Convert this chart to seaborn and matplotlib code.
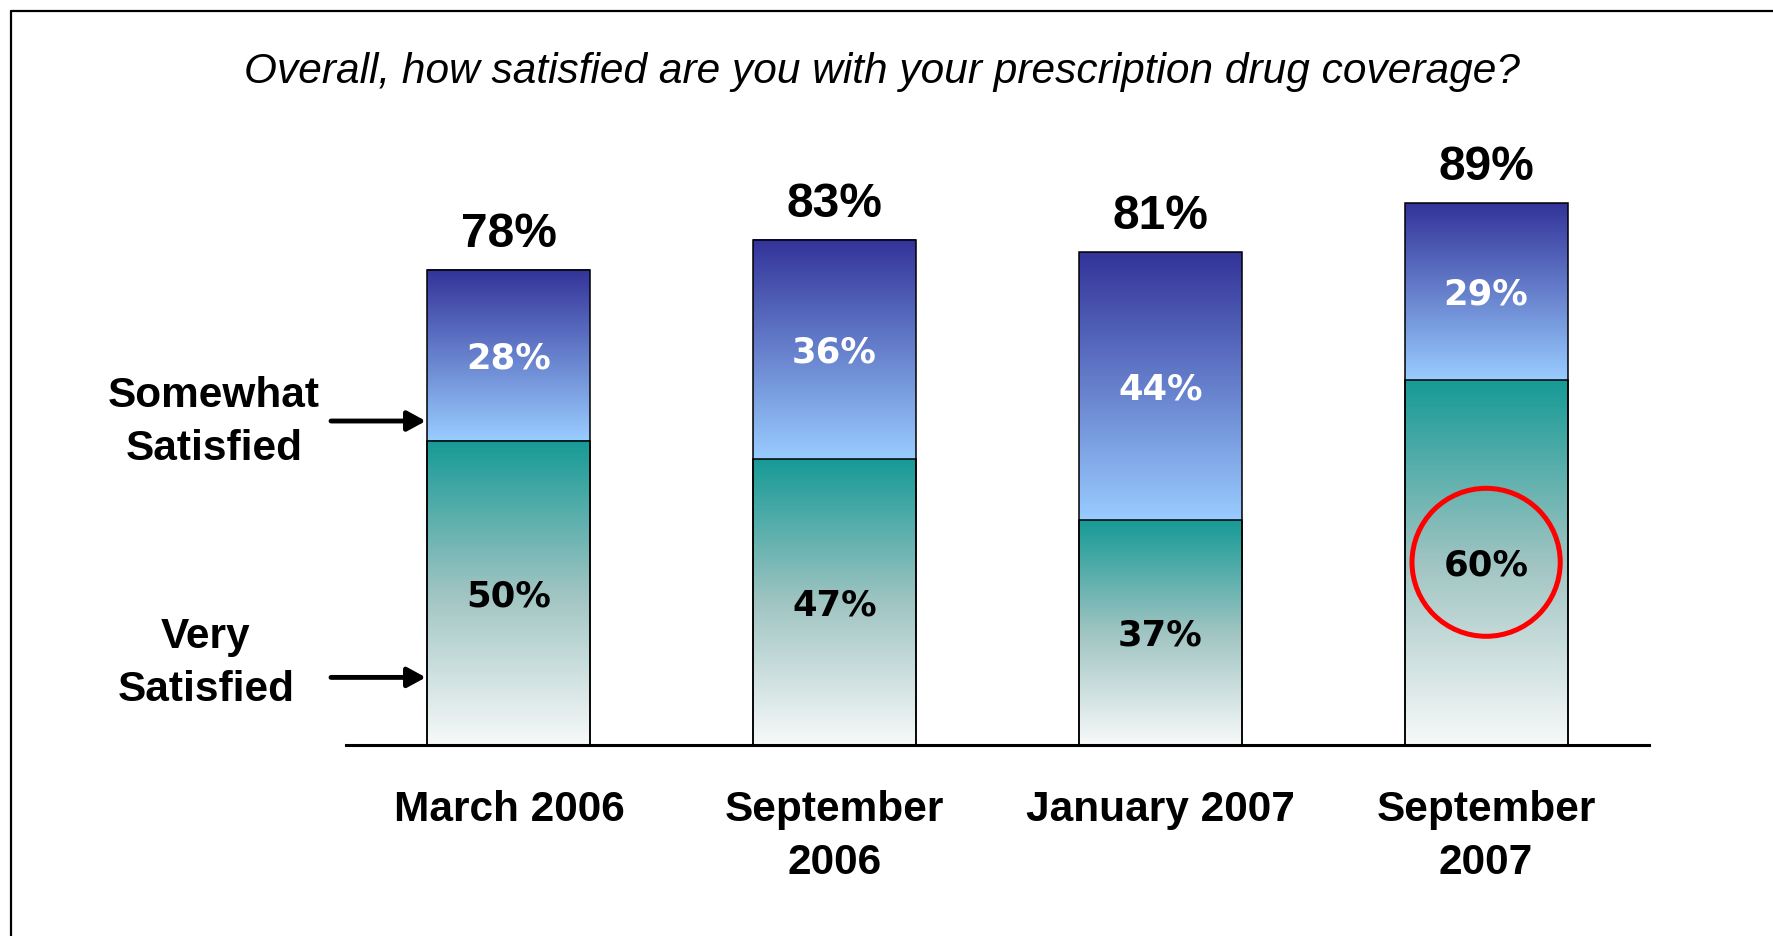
import matplotlib
matplotlib.use("Agg")
import matplotlib.pyplot as plt
from matplotlib.colors import LinearSegmentedColormap
from matplotlib.patches import Ellipse
from matplotlib.lines import Line2D
import numpy as np
import pandas as pd
import seaborn as sns

periods = ["March 2006", "September\n2006", "January 2007", "September\n2007"]
very_satisfied = [50, 47, 37, 60]
somewhat_satisfied = [28, 36, 44, 29]
total_satisfied = [78, 83, 81, 89]
title = "Overall, how satisfied are you with your prescription drug coverage?"

sns.set_theme(style="white")
plt.rcParams['font.family'] = ['Liberation Sans', 'DejaVu Sans']
plt.rcParams['text.color'] = 'black'
plt.rcParams['xtick.color'] = 'black'
plt.rcParams['xtick.labelcolor'] = 'black'

W, H = 1773, 937
fig = plt.figure(figsize=(W / 100, H / 100), dpi=100)
ax = fig.add_axes([346 / W, (H - 746) / H, 1303 / W, 609 / H])

df = pd.DataFrame({"period": periods, "very": very_satisfied,
                   "somewhat": somewhat_satisfied, "total": total_satisfied})

# full bar (very + somewhat), then the very satisfied part over it
sns.barplot(data=df, x="period", y="total", width=0.5, color="white",
            edgecolor="black", linewidth=1.1, errorbar=None, ax=ax)
sns.barplot(data=df, x="period", y="very", width=0.5, color="white",
            edgecolor="black", linewidth=1.1, errorbar=None, ax=ax)

blue_cmap = LinearSegmentedColormap.from_list("somewhat", ["#333399", "#99ccff"])
teal_cmap = LinearSegmentedColormap.from_list("very", ["#169a96", "#9fc4c2", "#f7f9f9"])
grad = np.linspace(0, 1, 256).reshape(-1, 1)

top_bars = ax.patches[:4]
low_bars = ax.patches[4:8]
for top_bar, low_bar in zip(top_bars, low_bars):
    x0 = low_bar.get_x()
    x1 = x0 + low_bar.get_width()
    v = low_bar.get_height()
    t = top_bar.get_height()
    ax.imshow(grad, cmap=teal_cmap, extent=[x0, x1, 0, v], aspect="auto",
              origin="upper", zorder=0.5)
    ax.imshow(grad, cmap=blue_cmap, extent=[x0, x1, v, t], aspect="auto",
              origin="upper", zorder=0.5)
    for b in (top_bar, low_bar):
        b.set_facecolor("none")
        b.set_zorder(2)

for i, row in df.iterrows():
    ax.annotate(f"{row.total}%", (i, row.total), xytext=(0, 17),
                textcoords="offset points", ha="center", va="baseline",
                fontsize=34.5, fontweight="bold")
    ax.text(i, row.very / 2 - 0.4, f"{row.very}%", ha="center", va="center",
            fontsize=25.5, fontweight="bold", family="DejaVu Sans", color="black", zorder=4)
    ax.text(i, row.very + row.somewhat / 2 - 0.4, f"{row.somewhat}%", ha="center",
            va="center", fontsize=25.5, fontweight="bold", family="DejaVu Sans",
            color="white", zorder=4)

# highlight circle around latest very satisfied value
ax.add_patch(Ellipse((3, very_satisfied[3] / 2), width=0.455, height=24.3,
                     fill=False, edgecolor="red", lw=3.6, zorder=5))

# side labels with arrows
ax.text(-0.906, 53.1, "Somewhat\nSatisfied", ha="center", va="center",
        fontsize=30.5, fontweight="bold", linespacing=1.4, clip_on=False)
ax.text(-0.93, 13.55, "Very\nSatisfied", ha="center", va="center",
        fontsize=30.5, fontweight="bold", linespacing=1.4, clip_on=False)
arrow = dict(arrowstyle="-|>,head_length=0.55,head_width=0.3", lw=3.5,
             color="black", mutation_scale=20, shrinkA=0, shrinkB=0)
ax.annotate("", xy=(-0.255, 53.2), xytext=(-0.546, 53.2), arrowprops=arrow,
            annotation_clip=False)
ax.annotate("", xy=(-0.255, 11.1), xytext=(-0.546, 11.1), arrowprops=arrow,
            annotation_clip=False)

ax.set_xlim(-0.5, 3.5)
ax.set_ylim(0, 100)
ax.set_xlabel("")
ax.set_ylabel("")
ax.set_yticks([])
sns.despine(ax=ax, left=True)
ax.spines["bottom"].set_color("black")
ax.spines["bottom"].set_linewidth(2.2)
ax.tick_params(axis="x", length=0, pad=32, labelsize=30.5)
plt.setp(ax.get_xticklabels(), fontweight="bold", linespacing=1.4)

fig.text(882 / W, 1 - 72 / H, title, ha="center", va="center",
         fontsize=30.5, style="italic")

# outer frame (top and left edges)
for xs, ys in [((11, W), (12, 12)), ((11, 11), (12, H))]:
    fig.add_artist(Line2D([x / W for x in xs], [1 - y / H for y in ys],
                          color="black", lw=1.6))

fig.savefig("out.png", dpi=100, facecolor="white")
